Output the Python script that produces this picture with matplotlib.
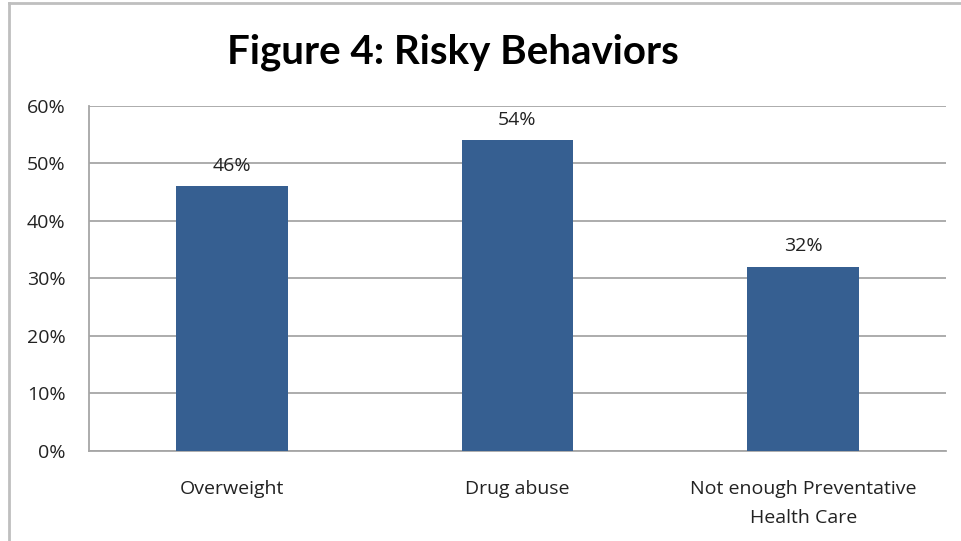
import matplotlib.pyplot as plt
from matplotlib.lines import Line2D

# Risky behaviors survey results (percent of respondents)
categories = ["Overweight", "Drug abuse", "Not enough Preventative\nHealth Care"]
values = [46, 54, 32]
y_ticks = [0, 10, 20, 30, 40, 50, 60]

bar_color = "#365F91"
grid_color = "#A6A6A6"
text_color = "#222222"

plt.rcParams["font.family"] = ["Open Sans", "DejaVu Sans"]

fig = plt.figure(figsize=(9.61, 5.41), dpi=100)
ax = fig.add_axes([0.0926, 0.1664, 0.8918, 0.6377])

x = range(len(categories))
bars = ax.bar(x, values, width=0.39, color=bar_color, zorder=3)

ax.set_xlim(-0.5, len(categories) - 0.5)
ax.set_ylim(0, 60)
ax.set_yticks(y_ticks)
ax.set_yticklabels([f"{t}%" for t in y_ticks], fontsize=14, color=text_color)
ax.set_xticks(list(x))
ax.set_xticklabels(categories, fontsize=14, color=text_color, linespacing=1.75)
ax.tick_params(axis="y", length=0, pad=17)
ax.tick_params(axis="x", length=0, pad=21)

ax.yaxis.grid(True, color=grid_color, linewidth=1.3, zorder=0)
for side in ["top", "right"]:
    ax.spines[side].set_visible(False)
for side in ["left", "bottom"]:
    ax.spines[side].set_color(grid_color)
    ax.spines[side].set_linewidth(1.3)

# value labels above bars
for rect, v in zip(bars, values):
    ax.text(rect.get_x() + rect.get_width() / 2, v + 2.0, f"{v}%",
            ha="center", va="bottom", fontsize=14, color=text_color)

fig.text(0.471, 0.903, "Figure 4: Risky Behaviors", ha="center", va="center",
         fontsize=29, fontfamily="Lato", fontweight="bold", color="black")

# outer chart frame (top and left edges)
fig.add_artist(Line2D([9 / 961, 1], [1 - 3 / 541, 1 - 3 / 541],
                      transform=fig.transFigure, color="#BFBFBF", linewidth=2))
fig.add_artist(Line2D([9 / 961, 9 / 961], [0, 1 - 3 / 541],
                      transform=fig.transFigure, color="#BFBFBF", linewidth=2))

fig.savefig("out.png", dpi=100)
